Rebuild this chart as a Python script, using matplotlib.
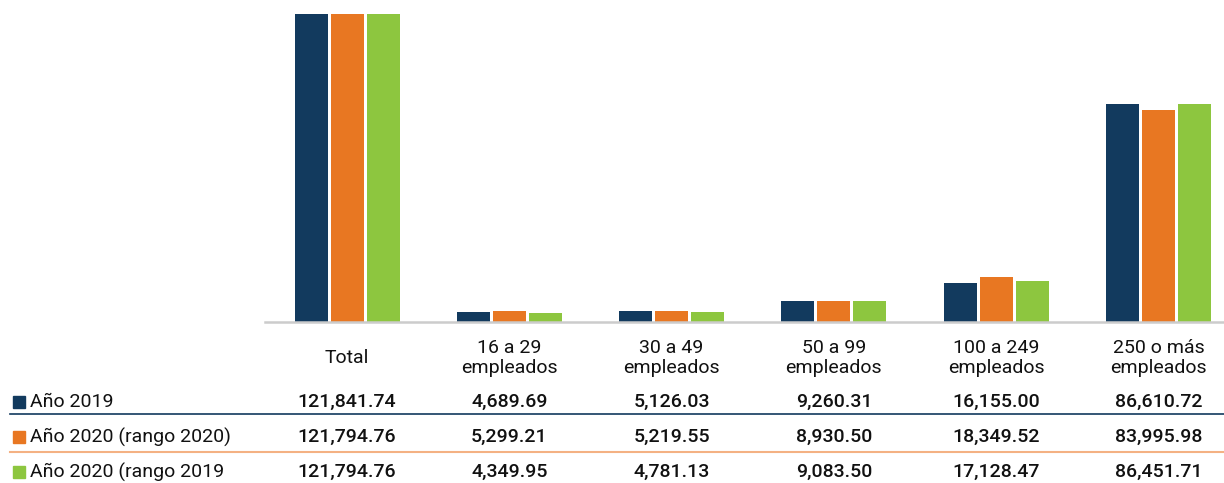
import matplotlib.pyplot as plt
from matplotlib.lines import Line2D
from matplotlib.transforms import blended_transform_factory
import numpy as np

plt.rcParams["font.family"] = ["Roboto", "DejaVu Sans"]

# datos
categorias = ["Total", "16 a 29\nempleados", "30 a 49\nempleados", "50 a 99\nempleados",
              "100 a 249\nempleados", "250 o más\nempleados"]
series = ["Año 2019", "Año 2020 (rango 2020)", "Año 2020 (rango 2019"]
anio_2019 = [121841.74, 4689.69, 5126.03, 9260.31, 16155.00, 86610.72]
anio_2020_r2020 = [121794.76, 5299.21, 5219.55, 8930.50, 18349.52, 83995.98]
anio_2020_r2019 = [121794.76, 4349.95, 4781.13, 9083.50, 17128.47, 86451.71]
colores = ["#123a5e", "#e87722", "#8dc63f"]

valores = [anio_2019, anio_2020_r2020, anio_2020_r2019]

W, H = 1224, 483
fig = plt.figure(figsize=(W / 100, H / 100), dpi=100)
ax = fig.add_axes([265 / W, 1 - 322 / H, (W - 265) / W, 308 / H])

x = np.arange(len(categorias))
paso = 36 / 162.3
ancho = 33 / 162.3
for i, (vals, c) in enumerate(zip(valores, colores)):
    ax.bar(x + (i - 1) * paso, vals, width=ancho, color=c, zorder=2)

ax.set_xlim(-82 / 162.3, (1224 - 347) / 162.3)
ax.set_ylim(825, max(anio_2019))
for s in ax.spines.values():
    s.set_visible(False)
ax.set_xticks([])
ax.set_yticks([])
ax.axhline(825, color="#cccccc", lw=1.8, zorder=3, clip_on=False)

tr = blended_transform_factory(ax.transData, fig.transFigure)

# etiquetas de categorias
for xi, cat in zip(x, categorias):
    ax.text(xi, 1 - 358 / H, cat, transform=tr, ha="center", va="center",
            fontsize=14, linespacing=1.1, color="#111111")

# tabla de datos
filas_y = [402, 437, 472]
for fy, nombre, vals, c in zip(filas_y, series, valores, colores):
    fig.patches.append(plt.Rectangle((13 / W, 1 - (fy + 6) / H), 12 / W, 12 / H,
                                     transform=fig.transFigure, color=c))
    fig.text(30 / W, 1 - fy / H, nombre, ha="left", va="center", fontsize=14,
             color="#111111")
    for xi, v in zip(x, vals):
        ax.text(xi, 1 - fy / H, f"{v:,.2f}", transform=tr, ha="center", va="center",
                fontsize=14, fontweight="medium", color="#111111")

fig.add_artist(Line2D([10 / W, 1], [1 - 414 / H] * 2, color="#123a5e", lw=1.2,
                      transform=fig.transFigure))
fig.add_artist(Line2D([10 / W, 1], [1 - 452 / H] * 2, color="#f4b183", lw=1.5,
                      transform=fig.transFigure))

plt.savefig("out.png", dpi=100)
